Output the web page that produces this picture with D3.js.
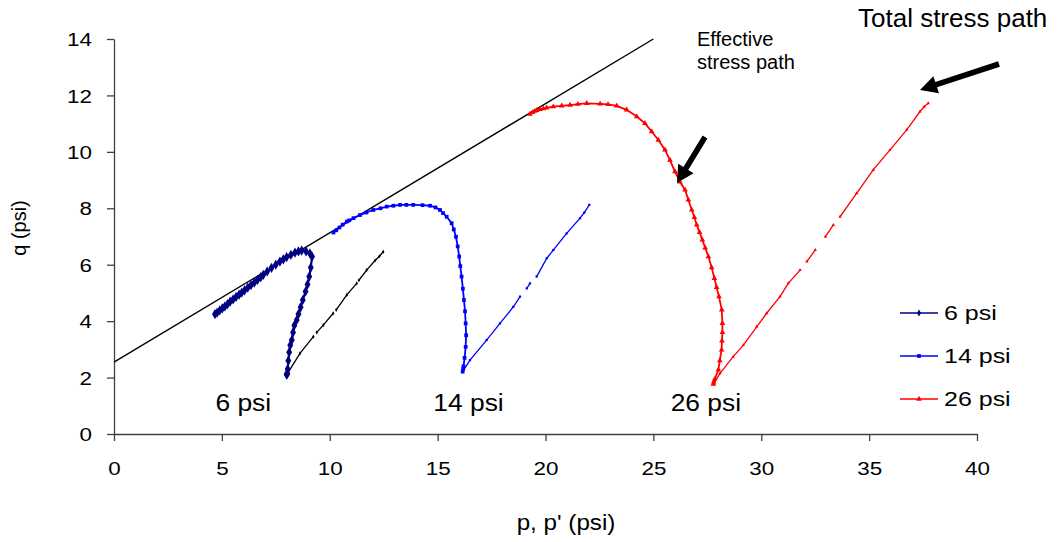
<!DOCTYPE html>
<html><head><meta charset="utf-8">
<script src="https://cdn.jsdelivr.net/npm/d3@7"></script>
<style>
body{margin:0;background:#fff;}
text{font-family:"Liberation Sans",Arial,sans-serif;fill:#000;}
</style></head>
<body><svg id="c" width="1060" height="542"></svg>
<script>
// ---- data ----
const xTicks = [0,5,10,15,20,25,30,35,40];
const yTicks = [0,2,4,6,8,10,12,14];
const envelope = [[0,2.55],[25,14]];
const eff6 = [[8.0,2.1],[8.02,2.15],[8.03,2.13],[8.05,2.3],[8.08,2.6],[8.12,2.9],[8.17,3.15],[8.24,3.33],[8.3,3.6],[8.36,3.85],[8.47,4.04],[8.55,4.25],[8.65,4.49],[8.75,4.75],[8.88,5.05],[8.97,5.3],[9.05,5.58],[9.12,5.9],[9.18,6.29],[9.08,6.4],[8.9,6.47],[8.7,6.5],[8.55,6.47],[8.39,6.43],[8.2,6.35],[8.0,6.27],[7.85,6.19],[7.69,6.11],[7.5,6.0],[7.3,5.89],[7.1,5.76],[6.92,5.64],[6.8,5.56],[6.65,5.46],[6.5,5.36],[6.35,5.28],[6.2,5.19],[6.05,5.09],[5.92,5.01],[5.8,4.94],[5.66,4.86],[5.52,4.77],[5.38,4.69],[5.26,4.6],[5.14,4.52],[5.02,4.45],[4.9,4.38],[4.78,4.3],[4.68,4.25]];
const eff14 = [[16.16,2.21],[16.18,2.3],[16.2,2.4],[16.25,2.7],[16.3,3.09],[16.32,3.5],[16.3,3.92],[16.27,4.35],[16.22,4.75],[16.17,5.15],[16.11,5.58],[16.05,5.95],[16.0,6.29],[15.93,6.65],[15.85,6.99],[15.75,7.25],[15.65,7.47],[15.42,7.7],[15.25,7.83],[15.11,7.94],[14.9,8.03],[14.65,8.09],[14.3,8.11],[13.87,8.12],[13.55,8.12],[13.26,8.12],[12.95,8.09],[12.64,8.06],[12.35,8.0],[12.02,7.94],[11.7,7.85],[11.4,7.76],[11.1,7.65],[10.9,7.57],[10.79,7.53],[10.6,7.42],[10.45,7.32],[10.3,7.22],[10.17,7.14]];
const eff26 = [[27.78,1.77],[27.8,1.85],[27.85,1.95],[28.01,2.27],[28.08,2.6],[28.16,2.98],[28.18,3.3],[28.2,3.6],[28.2,3.92],[28.17,4.4],[28.04,4.87],[27.93,5.2],[27.83,5.52],[27.7,5.9],[27.55,6.29],[27.4,6.6],[27.27,6.88],[27.14,7.15],[27.01,7.41],[26.9,7.68],[26.78,7.94],[26.62,8.3],[26.47,8.65],[26.23,8.94],[26.0,9.3],[25.77,9.71],[25.54,10.07],[25.23,10.42],[24.92,10.72],[24.61,11.01],[24.23,11.25],[23.76,11.49],[23.3,11.63],[22.9,11.68],[22.53,11.7],[21.91,11.72],[21.5,11.69],[21.14,11.66],[20.75,11.63],[20.36,11.6],[20.05,11.56],[19.9,11.53],[19.75,11.51],[19.6,11.47],[19.5,11.44],[19.4,11.4],[19.28,11.34]];
const tot6 = [[8.03,2.13],[8.62,2.86],[9.24,3.45],null,[9.4,3.6],[9.7,3.86],[10.16,4.28],null,[10.3,4.4],[10.79,4.93],[11.25,5.34],null,[11.35,5.45],[11.71,5.81],[12.1,6.15],[12.3,6.3],[12.48,6.46]];
const tot14 = [[16.16,2.21],[16.5,2.62],[17.27,3.33],[17.89,3.92],[18.51,4.51],[18.82,4.87],null,[19.13,5.16],[19.28,5.34],null,[19.59,5.58],[20.06,6.23],[20.36,6.52],[20.98,7.11],[21.6,7.65],[21.8,7.85],[22.03,8.12]];
const tot26 = [[27.81,1.8],[28.09,2.15],[28.7,2.74],[29.17,3.15],[29.79,3.8],[30.25,4.28],[30.87,4.87],[31.25,5.34],[31.8,5.81],null,[32.11,6.11],[32.5,6.52],null,[32.97,6.99],[33.34,7.41],null,[33.65,7.7],[34.42,8.53],[35.19,9.36],[35.97,10.07],[36.74,10.78],[37.36,11.43],[37.55,11.6],[37.74,11.72]];
const seriesNames = ["6 psi","14 psi","26 psi"];
const seriesColors = ["#000080","#0000ff","#ff0000"];
const groupLabels = [["6 psi",4.7],["14 psi",14.8],["26 psi",25.8]];

// ---- chart ----
const svg = d3.select("#c");
const x = d3.scaleLinear().domain([0,40]).range([114,977]);
const y = d3.scaleLinear().domain([0,14]).range([434,39]);
const axisColor = "#404040";

// axes
const gx = svg.append("g").attr("transform","translate(0,434)")
  .call(d3.axisBottom(x).tickValues(xTicks).tickSize(7).tickSizeOuter(0).tickFormat(d3.format("d")));
const gy = svg.append("g").attr("transform","translate(114,0)")
  .call(d3.axisLeft(y).tickValues(yTicks).tickSize(7).tickSizeOuter(0).tickFormat(d3.format("d")));
[gx,gy].forEach(g=>{
  g.select(".domain").attr("stroke",axisColor).attr("stroke-width",1.3);
  g.selectAll(".tick line").attr("stroke",axisColor).attr("stroke-width",1.3);
  g.selectAll(".tick text").attr("font-size",19).attr("fill","#000")
    .attr("font-family","Liberation Sans, Arial, sans-serif");
});
gx.selectAll(".tick text").attr("y",0).attr("dy",0)
  .attr("transform","translate(0,41) scale(1.18,1)");
gy.selectAll(".tick text").attr("x",0).attr("dy","0.35em")
  .attr("transform","translate(-22,0) scale(1.18,1)");

// axis titles
svg.append("text").attr("transform","translate(566,530) scale(1.1,1)")
  .attr("text-anchor","middle").attr("font-size",22).text("p, p' (psi)");
svg.append("text").attr("transform","translate(26,228) rotate(-90)")
  .attr("text-anchor","middle").attr("font-size",20).text("q (psi)");

// envelope (effective stress path line)
const line = d3.line().defined(d=>d!=null).x(d=>x(d[0])).y(d=>y(d[1]));
svg.append("path").attr("d",line(envelope)).attr("fill","none")
  .attr("stroke","#000").attr("stroke-width",1.4);

// total stress paths
const totals = [[tot6,"#000000",d3.symbolDiamond],[tot14,"#0000ff",d3.symbolSquare],[tot26,"#ff0000",d3.symbolTriangle]];
totals.forEach(([data,col,sym])=>{
  svg.append("path").attr("d",line(data)).attr("fill","none")
    .attr("stroke",col).attr("stroke-width",1.3);
  svg.append("g").selectAll("path").data(data.filter(d=>d!=null)).join("path")
    .attr("transform",d=>`translate(${x(d[0])},${y(d[1])})`)
    .attr("d",d3.symbol(sym,5)).attr("fill",col);
});

// effective stress paths
const effs = [[eff6,seriesColors[0],d3.symbolDiamond,30,2.2],[eff14,seriesColors[1],d3.symbolSquare,14,1.8],[eff26,seriesColors[2],d3.symbolTriangle,14,1.8]];
effs.forEach(([data,col,sym,sz,sw])=>{
  svg.append("path").attr("d",line(data)).attr("fill","none")
    .attr("stroke",col).attr("stroke-width",sw);
  svg.append("g").selectAll("path").data(data).join("path")
    .attr("transform",d=>`translate(${x(d[0])},${y(d[1])})`)
    .attr("d",d3.symbol(sym,sz)).attr("fill",col);
});

// group labels
svg.append("g").selectAll("text").data(groupLabels).join("text")
  .attr("transform",d=>`translate(${x(d[1])},411) scale(1.1,1)`)
  .attr("font-size",24).text(d=>d[0]);

// legend
const leg = svg.append("g");
const legSyms = [d3.symbolDiamond,d3.symbolSquare,d3.symbolTriangle];
seriesNames.forEach((n,i)=>{
  const yy = 313 + i*43;
  leg.append("line").attr("x1",900).attr("x2",938).attr("y1",yy).attr("y2",yy)
    .attr("stroke",seriesColors[i]).attr("stroke-width",1.6);
  leg.append("path").attr("transform",`translate(919,${yy})`)
    .attr("d",d3.symbol(legSyms[i],14)).attr("fill",seriesColors[i]);
  leg.append("text").attr("transform",`translate(944,${yy}) scale(1.25,1)`)
    .attr("dy","0.35em").attr("font-size",20).text(n);
});

// annotations
svg.append("text").attr("x",697).attr("y",46).attr("font-size",20).text("Effective");
svg.append("text").attr("x",697).attr("y",69).attr("font-size",20).text("stress path");
svg.append("text").attr("x",858).attr("y",27).attr("font-size",26).text("Total stress path");

function arrow(x1,y1,x2,y2){
  const ang = Math.atan2(y2-y1,x2-x1);
  const L = Math.hypot(x2-x1,y2-y1);
  const hl=17, hw=9, sw=2.8;
  const pts = [[0,-sw],[L-hl,-sw],[L-hl,-hw],[L,0],[L-hl,hw],[L-hl,sw],[0,sw]];
  svg.append("path")
    .attr("transform",`translate(${x1},${y1}) rotate(${ang*180/Math.PI})`)
    .attr("d","M"+pts.map(p=>p.join(",")).join("L")+"Z").attr("fill","#000");
}
arrow(999,64,920,90);
arrow(705,137,677,183);
</script></body></html>
